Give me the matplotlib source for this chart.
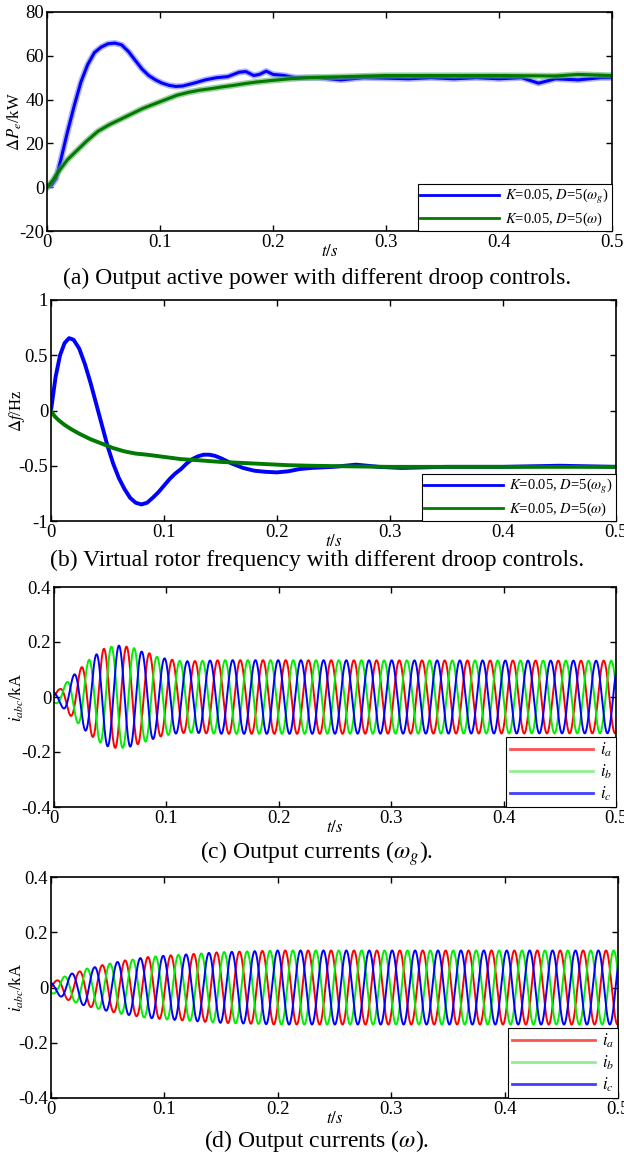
import numpy as np
import matplotlib
matplotlib.use("Agg")
import matplotlib.pyplot as plt

plt.rcParams['font.family'] = ['Liberation Serif', 'DejaVu Serif']
plt.rcParams['mathtext.fontset'] = 'stix'
plt.rcParams['axes.unicode_minus'] = False

# (a) output active power, kW
p_t_wg = [0, 0.004, 0.008, 0.012, 0.018, 0.024, 0.030, 0.036, 0.042, 0.048, 0.054, 0.060,
          0.066, 0.072, 0.078, 0.084, 0.090, 0.096, 0.102, 0.108, 0.114, 0.120, 0.130, 0.140,
          0.150, 0.160, 0.170, 0.176, 0.183, 0.188, 0.194, 0.200, 0.210, 0.220, 0.240, 0.260,
          0.280, 0.300, 0.320, 0.340, 0.360, 0.380, 0.400, 0.420, 0.435, 0.450, 0.470, 0.490, 0.500]
p_wg = [0, 1, 4, 12, 25, 37, 48, 56, 61.5, 64, 65.5, 65.8,
        65, 62, 58, 54, 51, 49, 47.5, 46.5, 46, 46.2, 47.5, 49,
        50, 50.5, 52.5, 52.8, 51, 51.5, 53, 51.5, 51, 50, 50, 49,
        50, 49.8, 49.5, 50, 49.5, 50, 49.5, 50, 47.5, 49.5, 49, 50, 50]
p_t_w = [0, 0.005, 0.010, 0.018, 0.025, 0.035, 0.045, 0.055, 0.065, 0.075, 0.085, 0.095,
         0.105, 0.115, 0.125, 0.135, 0.145, 0.155, 0.165, 0.175, 0.185, 0.200, 0.215, 0.230,
         0.250, 0.300, 0.350, 0.400, 0.450, 0.470, 0.500]
p_w = [0, 3, 7, 12.5, 16, 21, 25.5, 28.5, 31, 33.5, 36, 38,
       40, 42, 43.3, 44.3, 45, 45.8, 46.5, 47.3, 48, 48.8, 49.5, 50,
       50.3, 51, 51, 51, 50.8, 51.5, 51]

# (b) virtual rotor frequency deviation, Hz
f_t_wg = [0, 0.004, 0.008, 0.012, 0.016, 0.020, 0.025, 0.030, 0.035, 0.040, 0.045, 0.050,
          0.055, 0.060, 0.065, 0.070, 0.075, 0.080, 0.085, 0.090, 0.095, 0.100, 0.105, 0.110,
          0.115, 0.120, 0.125, 0.130, 0.135, 0.140, 0.145, 0.150, 0.160, 0.170, 0.180, 0.190,
          0.200, 0.210, 0.220, 0.230, 0.250, 0.270, 0.290, 0.310, 0.350, 0.400, 0.450, 0.500]
f_wg = [0, 0.30, 0.50, 0.61, 0.655, 0.64, 0.56, 0.42, 0.25, 0.06, -0.13, -0.32,
        -0.48, -0.61, -0.71, -0.79, -0.835, -0.85, -0.835, -0.79, -0.74, -0.68, -0.62, -0.57,
        -0.53, -0.48, -0.44, -0.415, -0.40, -0.40, -0.41, -0.43, -0.48, -0.52, -0.545, -0.555,
        -0.56, -0.55, -0.53, -0.52, -0.51, -0.49, -0.51, -0.52, -0.51, -0.51, -0.50, -0.51]
f_t_w = [0, 0.003, 0.007, 0.012, 0.018, 0.025, 0.035, 0.045, 0.055, 0.065, 0.075, 0.085,
         0.100, 0.115, 0.130, 0.150, 0.170, 0.190, 0.210, 0.230, 0.260, 0.300, 0.500]
f_w = [0, -0.05, -0.09, -0.13, -0.17, -0.21, -0.26, -0.30, -0.34, -0.37, -0.39, -0.40,
       -0.42, -0.44, -0.45, -0.465, -0.475, -0.485, -0.495, -0.50, -0.505, -0.51, -0.51]

# (c), (d) three-phase currents: peak envelope (kA), nominal frequency, start phase
f_nom = 50.0
amp_t_c = [0, 0.005, 0.011, 0.018, 0.025, 0.031, 0.038, 0.044, 0.051, 0.058, 0.065,
           0.072, 0.078, 0.085, 0.091, 0.099, 0.110, 0.120, 0.150, 0.200, 0.500]
amp_c = [0.02, 0.028, 0.052, 0.082, 0.11, 0.135, 0.156, 0.175, 0.183, 0.187, 0.183,
         0.177, 0.165, 0.159, 0.147, 0.14, 0.132, 0.13, 0.134, 0.134, 0.132]
phase0_c = 0.095
amp_t_d = [0, 0.005, 0.012, 0.018, 0.025, 0.031, 0.038, 0.044, 0.051, 0.058, 0.065,
           0.072, 0.078, 0.085, 0.100, 0.120, 0.150, 0.200, 0.500]
amp_d = [0.02, 0.025, 0.04, 0.05, 0.058, 0.068, 0.073, 0.08, 0.086, 0.092, 0.098,
         0.101, 0.106, 0.11, 0.115, 0.12, 0.128, 0.134, 0.134]
phase0_d = 0.0

xticks = [0, 0.1, 0.2, 0.3, 0.4, 0.5]
xticklabels = ['0', '0.1', '0.2', '0.3', '0.4', '0.5']

W, H = 624, 1157
fig = plt.figure(figsize=(W / 100, H / 100), dpi=100)


def px_axes(left, right, top, bottom):
    return fig.add_axes([left / W, 1 - bottom / H, (right - left) / W, (bottom - top) / H])


def style(ax, ylim, yticks, ylabels, ylabel, label_x):
    ax.set_xlim(0, 0.5)
    ax.set_ylim(*ylim)
    ax.set_xticks(xticks)
    ax.set_xticklabels(xticklabels)
    ax.set_yticks(yticks)
    ax.set_yticklabels(ylabels)
    ax.tick_params(direction='in', top=True, right=True, length=4, width=1.0,
                   labelsize=13.5, pad=2)
    ax.set_ylabel(ylabel, fontsize=12, va='center', ha='center')
    # place the y label centre at a given pixel column
    bb = ax.get_position()
    ax.yaxis.set_label_coords((label_x / W - bb.x0) / bb.width, 0.5)
    ax.set_xlabel(r'$t/s$', fontsize=12, labelpad=-5)
    for s in ax.spines.values():
        s.set_linewidth(1.2)


def legend(ax, size, hlen, spacing, pad, handle_colors=None):
    lg = ax.legend(loc='lower right', fontsize=size, handlelength=hlen, handletextpad=0.4,
                   borderaxespad=0, borderpad=pad, labelspacing=spacing, fancybox=False,
                   edgecolor='black', framealpha=1)
    lg.get_frame().set_linewidth(0.8)
    for i, ln in enumerate(lg.get_lines()):
        ln.set_linewidth(2.0)
        if handle_colors:
            ln.set_color(handle_colors[i])
    return lg


def phases(t, ft, fv, amp_t, amp, phase0):
    # angle from nominal frequency plus the virtual rotor frequency deviation
    freq = f_nom + np.interp(t, ft, fv)
    theta = phase0 + 2 * np.pi * np.concatenate(([0], np.cumsum(0.5 * (freq[1:] + freq[:-1]) * np.diff(t))))
    a = np.interp(t, amp_t, amp)
    return [a * np.sin(theta - k * 2 * np.pi / 3) for k in range(3)]


lab_wg = r'$K$=0.05, $D$=5($\omega_g$)'
lab_w = r'$K$=0.05, $D$=5($\omega$)'

# (a)
ax1 = px_axes(47, 612, 12, 231)
ax1.plot(p_t_wg, p_wg, color='#8080ff', lw=4.5, alpha=0.6)
ax1.plot(p_t_wg, p_wg, color='#0000ff', lw=2.2, label=lab_wg)
ax1.plot(p_t_w, p_w, color='#60b060', lw=4.5, alpha=0.6)
ax1.plot(p_t_w, p_w, color='#007a00', lw=2.2, label=lab_w)
style(ax1, (-20, 80), [-20, 0, 20, 40, 60, 80], ['-20', '0', '20', '40', '60', '80'],
      r'$\Delta P_e$/kW', 15)
legend(ax1, 10.5, 5.4, 0.3, 0.2)

# (b)
ax2 = px_axes(51, 616, 300, 521)
ax2.plot(f_t_wg, f_wg, color='#0000ff', lw=2.8, label=lab_wg)
ax2.plot(f_t_w, f_w, color='#007a00', lw=2.8, label=lab_w)
style(ax2, (-1, 1), [-1, -0.5, 0, 0.5, 1], ['-1', '-0.5', '0', '0.5', '1'],
      r'$\Delta f$/Hz', 17)
legend(ax2, 10.5, 5.4, 0.3, 0.2)

# (c), (d)
t = np.linspace(0, 0.5, 6001)
cur_colors = ['#ff0000', '#00ee00', '#0000ff']
cur_legend_colors = ['#ff5050', '#90f090', '#4040ff']
cur_labels = [r'$i_a$', r'$i_b$', r'$i_c$']
cticks = [-0.4, -0.2, 0, 0.2, 0.4]
clabels = ['-0.4', '-0.2', '0', '0.2', '0.4']

ax3 = px_axes(54, 616, 587, 807)
for y, c, lb in zip(phases(t, f_t_wg, f_wg, amp_t_c, amp_c, phase0_c), cur_colors, cur_labels):
    ax3.plot(t, y, color=c, lw=1.4, label=lb)
style(ax3, (-0.4, 0.4), cticks, clabels, r'$i_{abc}$/kA', 17)
legend(ax3, 12, 5.0, 0.2, 0.25, cur_legend_colors)

ax4 = px_axes(51, 618, 877, 1098)
for y, c, lb in zip(phases(t, f_t_w, f_w, amp_t_d, amp_d, phase0_d), cur_colors, cur_labels):
    ax4.plot(t, y, color=c, lw=1.4, label=lb)
style(ax4, (-0.4, 0.4), cticks, clabels, r'$i_{abc}$/kA', 17)
legend(ax4, 12, 5.0, 0.2, 0.25, cur_legend_colors)

# captions
caps = ['(a) Output active power with different droop controls.',
        '(b) Virtual rotor frequency with different droop controls.',
        r'(c) Output currents ($\omega_g$).',
        r'(d) Output currents ($\omega$).']
for yc, txt in zip([278, 560, 854, 1141], caps):
    fig.text(0.508, 1 - yc / H, txt, ha='center', va='center', fontsize=17)

fig.savefig('out.png', dpi=100)
